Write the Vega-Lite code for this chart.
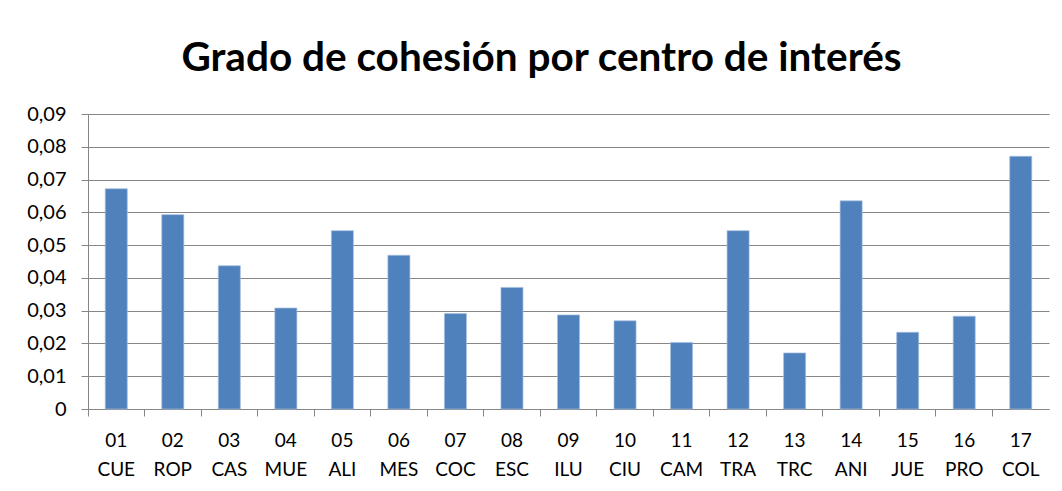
{
  "$schema": "https://vega.github.io/schema/vega-lite/v6.json",
  "autosize": "none",
  "width": 961,
  "height": 295,
  "padding": {"left": 88, "top": 114, "right": 13, "bottom": 82},
  "background": "white",
  "title": {
    "text": "Grado de cohesión por centro de interés",
    "font": "Lato",
    "fontSize": 40.5,
    "fontWeight": "bold",
    "color": "#000000",
    "anchor": "middle",
    "frame": "group",
    "dx": -27,
    "baseline": "alphabetic",
    "offset": -7
  },
  "data": {
    "values": [
      {"centro": "01 CUE", "cohesion": 0.0672},
      {"centro": "02 ROP", "cohesion": 0.0593},
      {"centro": "03 CAS", "cohesion": 0.0437},
      {"centro": "04 MUE", "cohesion": 0.0308},
      {"centro": "05 ALI", "cohesion": 0.0544},
      {"centro": "06 MES", "cohesion": 0.0469},
      {"centro": "07 COC", "cohesion": 0.0291},
      {"centro": "08 ESC", "cohesion": 0.0371},
      {"centro": "09 ILU", "cohesion": 0.0287},
      {"centro": "10 CIU", "cohesion": 0.0269},
      {"centro": "11 CAM", "cohesion": 0.0203},
      {"centro": "12 TRA", "cohesion": 0.0544},
      {"centro": "13 TRC", "cohesion": 0.0171},
      {"centro": "14 ANI", "cohesion": 0.0635},
      {"centro": "15 JUE", "cohesion": 0.0234},
      {"centro": "16 PRO", "cohesion": 0.0283},
      {"centro": "17 COL", "cohesion": 0.0771}
    ]
  },
  "mark": {"type": "bar", "width": {"band": 0.39}, "color": "#4F81BD", "stroke": "#A7BFDE", "strokeWidth": 0.7},
  "encoding": {
    "x": {
      "field": "centro",
      "type": "nominal",
      "sort": null,
      "scale": {"paddingInner": 0, "paddingOuter": 0},
      "axis": {
        "title": null,
        "labelAngle": 0,
        "labelExpr": "split(datum.label, ' ')",
        "labelFont": "Lato",
        "labelFontSize": 19,
        "labelColor": "#000000",
        "labelLineHeight": 29,
        "labelPadding": 15,
        "labelBaseline": "top",
        "bandPosition": 0,
        "ticks": true,
        "tickSize": 7,
        "tickColor": "#868686",
        "domainColor": "#868686",
        "grid": false
      }
    },
    "y": {
      "field": "cohesion",
      "type": "quantitative",
      "scale": {"domain": [0, 0.09], "nice": false},
      "axis": {
        "title": null,
        "values": [0, 0.01, 0.02, 0.03, 0.04, 0.05, 0.06, 0.07, 0.08, 0.09],
        "labelExpr": "datum.value == 0 ? '0' : replace(format(datum.value, '.2f'), '.', ',')",
        "labelFont": "Lato",
        "labelFontSize": 20,
        "labelColor": "#000000",
        "labelPadding": 15,
        "tickSize": 7,
        "tickColor": "#868686",
        "domainColor": "#868686",
        "grid": true,
        "gridColor": "#868686",
        "gridWidth": 1
      }
    }
  },
  "config": {"view": {"stroke": null}}
}
